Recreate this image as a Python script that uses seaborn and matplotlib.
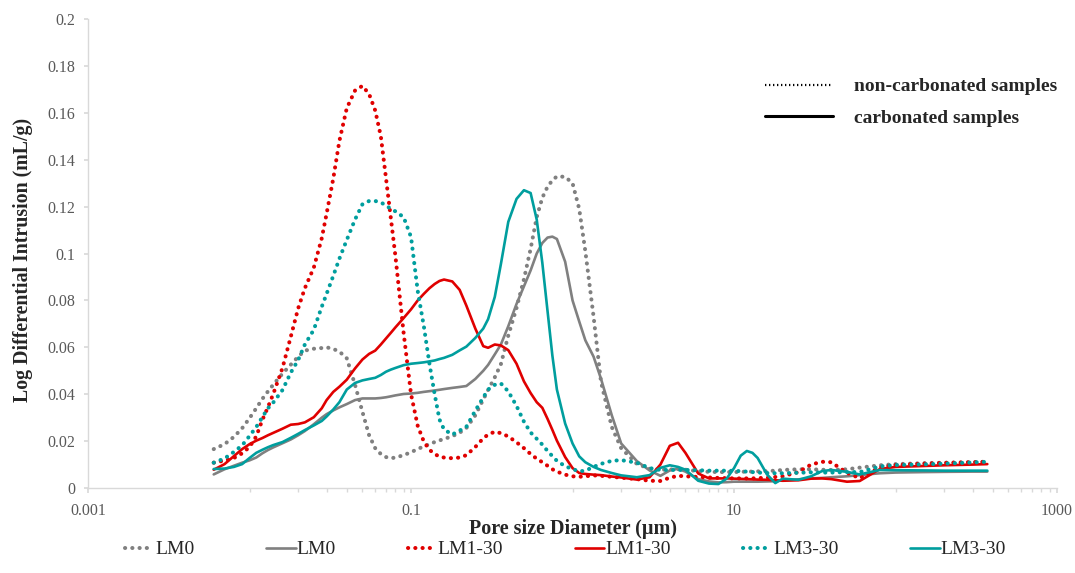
import matplotlib
matplotlib.use("Agg")
import matplotlib.pyplot as plt
from matplotlib.lines import Line2D
import seaborn as sns
import numpy as np
import pandas as pd

# pore diameter (um) at which the curves were read
diameter = [0.006, 0.007, 0.008, 0.009, 0.01, 0.011, 0.012, 0.013, 0.014, 0.016,
            0.018, 0.02, 0.022, 0.025, 0.028, 0.03, 0.033, 0.036, 0.04, 0.045,
            0.05, 0.055, 0.06, 0.065, 0.07, 0.075, 0.08, 0.09, 0.1, 0.11,
            0.12, 0.13, 0.14, 0.15, 0.16, 0.18, 0.2, 0.22, 0.25, 0.28,
            0.3, 0.33, 0.36, 0.4, 0.45, 0.5, 0.55, 0.6, 0.65, 0.7,
            0.75, 0.8, 0.9, 1.0, 1.1, 1.2, 1.35, 1.5, 1.75, 2,
            2.5, 3, 3.5, 4, 4.5, 5, 6, 7, 8, 9,
            10, 11, 12, 13, 14, 16, 18, 20, 25, 30,
            35, 40, 50, 60, 80, 100, 150, 200, 300, 370]

# log differential intrusion (mL/g)
lm0_nc = [0.0166, 0.0187, 0.0218, 0.0255, 0.0298, 0.0340, 0.0380, 0.0412, 0.0440, 0.0488,
          0.0526, 0.0560, 0.0586, 0.0594, 0.0597, 0.0600, 0.0593, 0.0582, 0.0553, 0.0440,
          0.0325, 0.0225, 0.0170, 0.0145, 0.0132, 0.0127, 0.0130, 0.0140, 0.0153, 0.0166,
          0.0178, 0.0187, 0.0196, 0.0203, 0.0209, 0.0221, 0.0236, 0.0256, 0.0310, 0.0378,
          0.0418, 0.0472, 0.0528, 0.0650, 0.0768, 0.0890, 0.1020, 0.1155, 0.1238, 0.1285,
          0.1312, 0.1329, 0.1327, 0.1300, 0.1190, 0.1010, 0.0730, 0.0453, 0.0260, 0.0170,
          0.0103, 0.0082, 0.0078, 0.0079, 0.0080, 0.0078, 0.0072, 0.0069, 0.0068, 0.0068,
          0.0068, 0.0069, 0.0070, 0.0070, 0.0071, 0.0072, 0.0074, 0.0077, 0.0080, 0.0080,
          0.0078, 0.0077, 0.0080, 0.0087, 0.0097, 0.0102, 0.0106, 0.0108, 0.0110, 0.0112]

lm0_c = [0.0058, 0.0080, 0.0095, 0.0108, 0.0118, 0.0130, 0.0148, 0.0162, 0.0173, 0.0191,
         0.0207, 0.0225, 0.0243, 0.0272, 0.0300, 0.0315, 0.0331, 0.0344, 0.0358, 0.0375,
         0.0382, 0.0382, 0.0382, 0.0384, 0.0387, 0.0391, 0.0395, 0.0401, 0.0403, 0.0406,
         0.0410, 0.0413, 0.0416, 0.0419, 0.0422, 0.0427, 0.0431, 0.0435, 0.0465, 0.0500,
         0.0525, 0.0570, 0.0612, 0.0690, 0.0785, 0.0860, 0.0928, 0.1000, 0.1045, 0.1068,
         0.1072, 0.1062, 0.0965, 0.0800, 0.0710, 0.0630, 0.0560, 0.0466, 0.0310, 0.0190,
         0.0115, 0.0075, 0.0052, 0.0075, 0.0082, 0.0070, 0.0038, 0.0028, 0.0024, 0.0025,
         0.0027, 0.0027, 0.0027, 0.0027, 0.0027, 0.0028, 0.0029, 0.0033, 0.0037, 0.0041,
         0.0043, 0.0046, 0.0050, 0.0055, 0.0063, 0.0066, 0.0068, 0.0069, 0.0070, 0.0070]

lm1_nc = [0.0108, 0.0117, 0.0128, 0.0148, 0.0175, 0.0220, 0.0290, 0.0345, 0.0400, 0.0512,
          0.0645, 0.0766, 0.0852, 0.0940, 0.1065, 0.1170, 0.1320, 0.1480, 0.1620, 0.1695,
          0.1715, 0.1680, 0.1610, 0.1500, 0.1320, 0.1150, 0.0990, 0.0660, 0.0400, 0.0265,
          0.0198, 0.0163, 0.0145, 0.0134, 0.0130, 0.0127, 0.0130, 0.0140, 0.0175, 0.0212,
          0.0228, 0.0240, 0.0234, 0.0220, 0.0195, 0.0170, 0.0145, 0.0125, 0.0110, 0.0095,
          0.0080, 0.0070, 0.0057, 0.0050, 0.0048, 0.0050, 0.0054, 0.0052, 0.0048, 0.0044,
          0.0038, 0.0031, 0.0030, 0.0044, 0.0052, 0.0050, 0.0047, 0.0045, 0.0043, 0.0042,
          0.0041, 0.0041, 0.0041, 0.0041, 0.0042, 0.0044, 0.0047, 0.0050, 0.0068, 0.0100,
          0.0112, 0.0110, 0.0065, 0.0042, 0.0088, 0.0098, 0.0104, 0.0107, 0.0110, 0.0112]

lm1_c = [0.0078, 0.0102, 0.0136, 0.0166, 0.0187, 0.0202, 0.0213, 0.0225, 0.0235, 0.0253,
         0.0270, 0.0273, 0.0280, 0.0302, 0.0340, 0.0375, 0.0410, 0.0432, 0.0462, 0.0510,
         0.0548, 0.0572, 0.0586, 0.0612, 0.0638, 0.0662, 0.0685, 0.0725, 0.0762, 0.0800,
         0.0828, 0.0852, 0.0870, 0.0883, 0.0889, 0.0881, 0.0845, 0.0778, 0.0680, 0.0605,
         0.0598, 0.0612, 0.0608, 0.0588, 0.0530, 0.0455, 0.0405, 0.0366, 0.0342, 0.0295,
         0.0248, 0.0202, 0.0132, 0.0085, 0.0064, 0.0060, 0.0057, 0.0055, 0.0049, 0.0045,
         0.0036, 0.0046, 0.0100, 0.0180, 0.0193, 0.0150, 0.0062, 0.0041, 0.0041, 0.0041,
         0.0040, 0.0039, 0.0038, 0.0037, 0.0036, 0.0035, 0.0033, 0.0031, 0.0033, 0.0040,
         0.0041, 0.0038, 0.0027, 0.0030, 0.0081, 0.0090, 0.0094, 0.0097, 0.0100, 0.0102]

lm3_nc = [0.0108, 0.0126, 0.0154, 0.0182, 0.0222, 0.0260, 0.0302, 0.0340, 0.0364, 0.0418,
          0.0492, 0.0546, 0.0612, 0.0675, 0.0773, 0.0828, 0.0905, 0.0978, 0.1058, 0.1145,
          0.1210, 0.1224, 0.1224, 0.1218, 0.1205, 0.1190, 0.1180, 0.1155, 0.1070, 0.0840,
          0.0690, 0.0530, 0.0400, 0.0292, 0.0250, 0.0228, 0.0245, 0.0261, 0.0330, 0.0386,
          0.0420, 0.0440, 0.0446, 0.0412, 0.0350, 0.0283, 0.0237, 0.0210, 0.0185, 0.0158,
          0.0136, 0.0116, 0.0093, 0.0081, 0.0071, 0.0074, 0.0090, 0.0103, 0.0116, 0.0119,
          0.0108, 0.0085, 0.0077, 0.0077, 0.0077, 0.0077, 0.0076, 0.0074, 0.0074, 0.0074,
          0.0073, 0.0072, 0.0070, 0.0068, 0.0066, 0.0064, 0.0063, 0.0063, 0.0065, 0.0067,
          0.0066, 0.0066, 0.0068, 0.0068, 0.0092, 0.0098, 0.0101, 0.0104, 0.0109, 0.0112]

lm3_c = [0.0081, 0.0083, 0.0090, 0.0102, 0.0128, 0.0150, 0.0163, 0.0174, 0.0183, 0.0196,
         0.0214, 0.0231, 0.0247, 0.0267, 0.0286, 0.0305, 0.0335, 0.0366, 0.0420, 0.0448,
         0.0459, 0.0465, 0.0470, 0.0482, 0.0496, 0.0505, 0.0512, 0.0524, 0.0530, 0.0533,
         0.0536, 0.0540, 0.0544, 0.0550, 0.0555, 0.0568, 0.0587, 0.0603, 0.0640, 0.0680,
         0.0720, 0.0815, 0.0955, 0.1135, 0.1233, 0.1270, 0.1258, 0.1145, 0.0960, 0.0755,
         0.0565, 0.0420, 0.0275, 0.0190, 0.0135, 0.0110, 0.0090, 0.0077, 0.0064, 0.0054,
         0.0046, 0.0055, 0.0086, 0.0097, 0.0090, 0.0078, 0.0031, 0.0019, 0.0017, 0.0040,
         0.0085, 0.0138, 0.0158, 0.0150, 0.0128, 0.0058, 0.0021, 0.0040, 0.0035, 0.0050,
         0.0072, 0.0077, 0.0069, 0.0058, 0.0077, 0.0076, 0.0075, 0.0074, 0.0074, 0.0074]

labels = ['LM0', 'LM0', 'LM1-30', 'LM1-30', 'LM3-30', 'LM3-30']
series = [lm0_nc, lm0_c, lm1_nc, lm1_c, lm3_nc, lm3_c]
colors = ['#808080', '#808080', '#E00000', '#E00000', '#009E9E', '#009E9E']
dotted = [True, False, True, False, True, False]

x_ticks = [0.001, 0.1, 10, 1000]
x_tick_labels = ['0.001', '0.1', '10', '1000']
y_ticks = [0, 0.02, 0.04, 0.06, 0.08, 0.1, 0.12, 0.14, 0.16, 0.18, 0.2]

##################################################################################
# plotting
sns.set_theme(style='white')
plt.rcParams['font.family'] = ['Liberation Serif', 'DejaVu Serif']

fig = plt.figure(figsize=(10.75, 5.73), dpi=100)
ax = fig.add_axes([0.0819, 0.1483, 0.9014, 0.8185])

handles = []
for lab, vals, col, dot in zip(labels, series, colors, dotted):
    df = pd.DataFrame({'d': diameter, 'v': vals})
    if dot:
        sns.lineplot(data=df, x='d', y='v', ax=ax, color=col, lw=2.9,
                     linestyle=(0, (0.05, 1.75)), dash_capstyle='round')
    else:
        sns.lineplot(data=df, x='d', y='v', ax=ax, color=col, lw=1.9)
    handles.append(ax.get_lines()[-1])

ax.set_xscale('log')
ax.set_xlim(0.001, 1000)
ax.set_ylim(0, 0.2)

ax.set_xticks(x_ticks)
ax.set_xticklabels(x_tick_labels)
minor = [k * b for b in [0.01, 1, 100] for k in range(1, 10)]
ax.set_xticks(minor, minor=True)
ax.set_xticklabels([], minor=True)
ax.set_yticks(y_ticks)
ax.set_yticklabels(['{:g}'.format(t) for t in y_ticks])

for s in ['top', 'right']:
    ax.spines[s].set_visible(False)
for s in ['left', 'bottom']:
    ax.spines[s].set_color('#D9D9D9')
    ax.spines[s].set_linewidth(1.0)

ax.tick_params(axis='both', which='both', direction='out', color='#D9D9D9',
               labelcolor='#595959', labelsize=11.5)
ax.tick_params(axis='x', which='major', length=3.5, pad=7)
ax.tick_params(axis='x', which='minor', length=3)
ax.tick_params(axis='y', which='major', length=3, pad=6)
ax.tick_params(bottom=True, left=True)
ax.tick_params(axis='x', which='minor', bottom=True)

ax.set_xlabel('Pore size Diameter (\u00b5m)', fontsize=14.5, fontweight='bold',
              labelpad=0)
ax.set_ylabel('Log Differential Intrusion (mL/g)', fontsize=14.3,
              fontweight='bold')
ax.yaxis.set_label_coords(-0.057, 0.486)

# bottom legend
fig.legend(handles, labels, loc='center', bbox_to_anchor=(0.526, 0.041),
           ncol=6, frameon=False, fontsize=14, handlelength=1.5,
           handletextpad=0.05, columnspacing=3.7)

# style key
key = [Line2D([], [], color='black', lw=1.6, linestyle=(0, (0.6, 1.2))),
       Line2D([], [], color='black', lw=2.2)]
ax.legend(key, ['non-carbonated samples', 'carbonated samples'],
          loc='upper left', bbox_to_anchor=(0.681, 0.912), frameon=False,
          prop={'weight': 'bold', 'size': 14}, handlelength=3.45,
          handletextpad=1.13, labelspacing=0.72)

plt.savefig('out.png', dpi=100)
